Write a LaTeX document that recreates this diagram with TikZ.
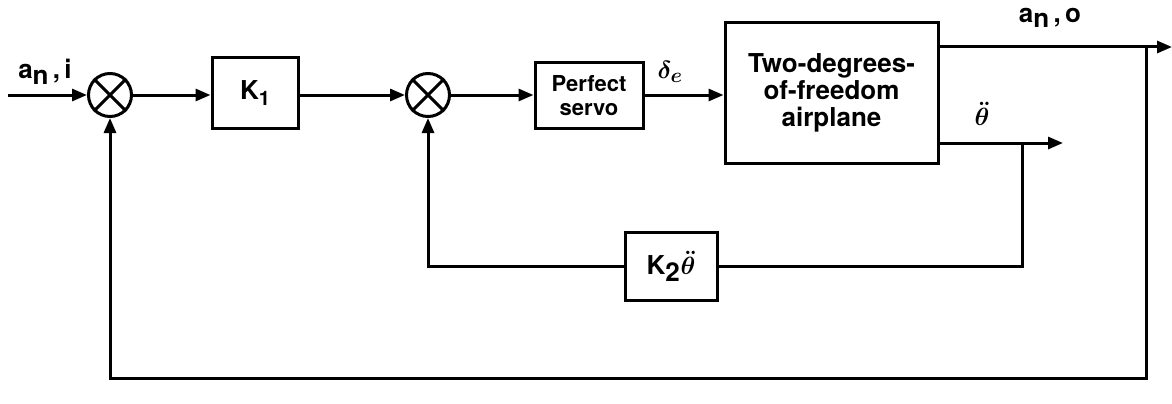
\documentclass[tikz,border=0pt]{standalone}
\usepackage{amsmath}
\usepackage{fontspec}
\setmainfont{TeX Gyre Heros}
\usetikzlibrary{arrows.meta}
\begin{document}
\begin{tikzpicture}[x=1pt,y=-1pt,
  every node/.style={font=\fontsize{26}{27}\selectfont\bfseries},
  blk/.style={draw,line width=3pt,rectangle,inner sep=0pt,align=center},
  sumc/.style={draw,line width=3pt,circle,minimum size=43pt,inner sep=0pt},
  conn/.style={line width=3pt},
  arr/.style={conn,-{Triangle[length=15pt,width=12pt]}},
  lbl/.style={inner sep=0pt},
  mlbl/.style={inner sep=0pt,font=\fontsize{30}{30}\selectfont}]
\useasboundingbox (0,0) rectangle (1172,404);
\coordinate (in) at (8,95);
\node[sumc] (s1) at (110,95) {};
\draw[conn] (s1.north east) -- (s1.south west) (s1.north west) -- (s1.south east);
\node[blk,minimum width=86pt,minimum height=70pt] (k1) at (255,93) {K\raisebox{-0.45ex}{\fontsize{20}{20}\selectfont 1}};
\node[sumc] (s2) at (428,95) {};
\draw[conn] (s2.north east) -- (s2.south west) (s2.north west) -- (s2.south east);
\node[blk,minimum width=108pt,minimum height=65pt,font=\fontsize{22}{24}\selectfont\bfseries] (servo) at (589,95.5) {Perfect\\servo};
\node[blk,minimum width=213pt,minimum height=140pt] (plane) at (831.5,93) {Two-degrees-\\of-freedom\\airplane};
\node[blk,minimum width=92pt,minimum height=68pt] (k2) at (671,266) {K\raisebox{-0.5ex}{2}\kern1pt{\fontsize{30}{30}\selectfont$\boldsymbol{\ddot{\theta}}$}};
\coordinate (aout) at (1172,47);
\coordinate (tout) at (1063,143);
\coordinate (tb) at (1022,143);
\coordinate (ab) at (1146,47);
\coordinate (bl) at (1146,378);
\draw[arr] (in) -- (s1.west);
\draw[arr] (s1.east) -- (k1.west |- s1.east);
\draw[arr] (k1.east |- s2.west) -- (s2.west);
\draw[arr] (s2.east) -- (servo.west |- s2.east);
\draw[arr] (servo.east |- s2.east) -- (plane.west |- s2.east);
\draw[arr] (plane.east |- aout) -- (aout);
\draw[arr] (plane.east |- tout) -- (tout);
\draw[conn] (tb) |- (k2.east);
\draw[arr] (k2.west) -| (s2.south);
\draw[arr] (ab) -- (bl) -| (s1.south);
\node[lbl] (lai) at (45,72) {a\raisebox{-0.4ex}{n}\,,\,i};
\node[mlbl] (lde) at (670,72) {$\boldsymbol{\delta_e}$};
\node[lbl] (lao) at (1050,18) {a\raisebox{-0.4ex}{n}\,,\,o};
\node[mlbl] (lth) at (982,114) {$\boldsymbol{\ddot{\theta}}$};
\end{tikzpicture}
\end{document}
